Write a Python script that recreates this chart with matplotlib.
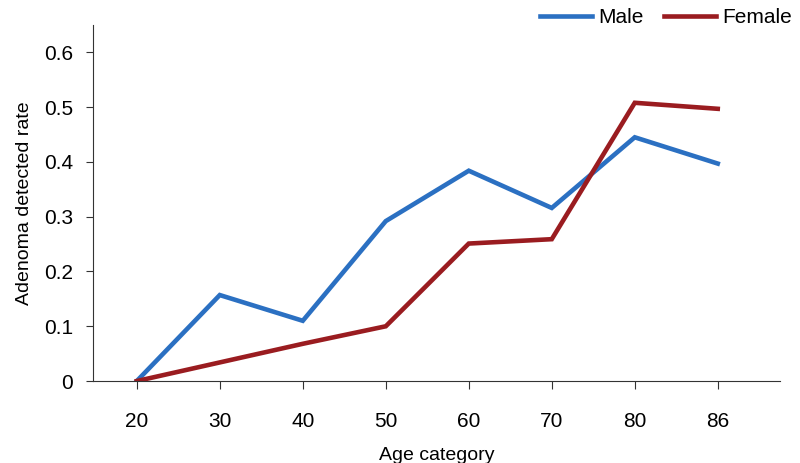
import matplotlib.pyplot as plt

ages = ["20", "30", "40", "50", "60", "70", "80", "86"]
male = [0.0, 0.157, 0.110, 0.292, 0.384, 0.316, 0.445, 0.397]
female = [0.0, 0.034, 0.068, 0.100, 0.251, 0.259, 0.508, 0.497]

plt.rcParams['font.family'] = ['Liberation Sans', 'DejaVu Sans']

fig = plt.figure(figsize=(8, 4.63), dpi=100)
ax = fig.add_axes([0.116, 0.177, 0.859, 0.769])

x = range(len(ages))
ax.plot(x, male, color="#2b70c2", lw=3.3, label="Male", solid_joinstyle="miter")
ax.plot(x, female, color="#9a1c20", lw=3.3, label="Female", solid_joinstyle="miter")

ax.set_xlim(-0.53, 7.75)
ax.set_ylim(0, 0.65)
ax.set_xticks(list(x))
ax.set_xticklabels(ages)
ax.set_yticks([0, 0.1, 0.2, 0.3, 0.4, 0.5, 0.6])
ax.set_yticklabels(["0", "0.1", "0.2", "0.3", "0.4", "0.5", "0.6"])

for s in ["top", "right"]:
    ax.spines[s].set_visible(False)
ax.spines["left"].set_color("#333333")
ax.spines["bottom"].set_color("#333333")
ax.tick_params(axis="x", length=6, pad=16, labelsize=15, color="#333333")
ax.tick_params(axis="y", length=5, pad=9, labelsize=15, color="#333333")

ax.set_xlabel("Age category", fontsize=14, labelpad=12)
ax.set_ylabel("Adenoma detected rate", fontsize=14, labelpad=8)

ax.legend(loc="upper right", bbox_to_anchor=(1.045, 1.1), ncol=2, frameon=False,
          fontsize=15, handlelength=2.5, columnspacing=1.0, handletextpad=0.3)

plt.savefig("out.png", dpi=100)
